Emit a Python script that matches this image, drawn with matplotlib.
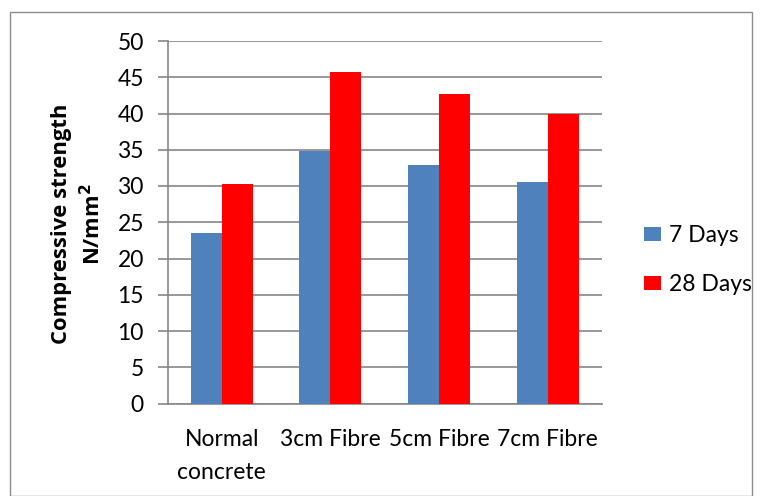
import matplotlib
matplotlib.use("Agg")
import matplotlib.pyplot as plt
import numpy as np
from matplotlib.patches import Rectangle

categories = ["Normal\nconcrete", "3cm Fibre", "5cm Fibre", "7cm Fibre"]
series_names = ["7 Days", "28 Days"]
days7 = [23.5, 34.8, 32.9, 30.5]
days28 = [30.3, 45.7, 42.7, 40.0]
colors = ["#4F81BD", "#FF0000"]
yticks = [0, 5, 10, 15, 20, 25, 30, 35, 40, 45, 50]

plt.rcParams['font.family'] = ['Lato', 'DejaVu Sans']

W, H = 764, 496
fig = plt.figure(figsize=(W/100, H/100), dpi=100)
# outer frame
fig.patches.append(Rectangle((10/W, 0), (752-10)/W, (496-12)/H, transform=fig.transFigure,
                             fill=False, edgecolor="#8C8C8C", linewidth=1.0))

left, right, top, bottom = 167.5, 602, 41, 403.5
ax = fig.add_axes([left/W, 1-bottom/H, (right-left)/W, (bottom-top)/H])

x = np.arange(len(categories))
bw = 0.285
ax.bar(x - bw/2, days7, bw, color=colors[0], label=series_names[0], zorder=3)
ax.bar(x + bw/2, days28, bw, color=colors[1], label=series_names[1], zorder=3)

ax.set_xlim(-0.5, len(categories)-0.5)
ax.set_ylim(0, 50)
ax.set_yticks(yticks)
ax.set_yticklabels([str(t) for t in yticks], fontsize=16.5)
ax.yaxis.grid(True, color="#868686", linewidth=1.2, zorder=0)
ax.set_axisbelow(True)
for s in ["top", "right"]:
    ax.spines[s].set_visible(False)
ax.spines["left"].set_color("#868686")
ax.spines["bottom"].set_color("#868686")
ax.spines["left"].set_linewidth(1.2)
ax.spines["bottom"].set_linewidth(1.2)
ax.tick_params(axis="y", length=7, color="#868686", width=1.2, pad=10)
ax.set_xticks(x)
ax.set_xticklabels(categories, fontsize=16.5, linespacing=1.75)
ax.tick_params(axis="x", length=0, pad=18)

fig.text(78/W, 1-224/H, "Compressive strength\nN/mm$^\\mathbf{2}$", rotation=90, ha="center", va="center",
         fontsize=15.8, fontweight="bold", linespacing=1.4, family=["Open Sans", "DejaVu Sans"])

leg = fig.legend(loc="center left", bbox_to_anchor=(623/W, 1-260/H), frameon=False, fontsize=16.5,
                 handlelength=0.75, handleheight=0.55, handletextpad=0.35, labelspacing=1.2)

fig.savefig("out.png", dpi=100)
